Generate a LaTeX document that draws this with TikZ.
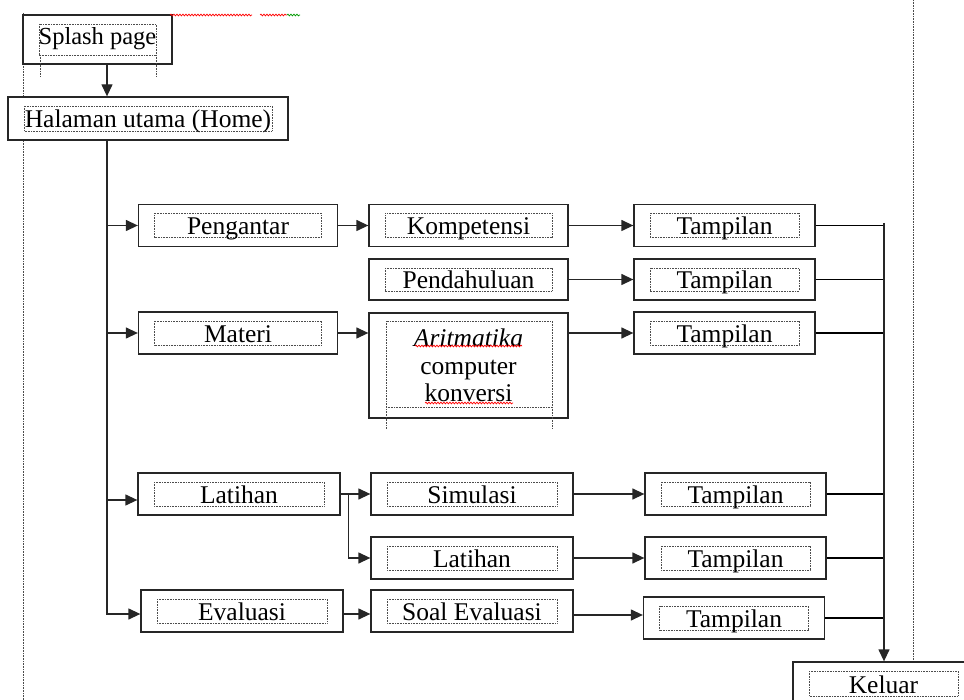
\documentclass[tikz,border=0pt]{standalone}
\usepackage{fontspec}
\setmainfont{Liberation Serif}
\usetikzlibrary{arrows.meta,decorations.pathmorphing}
\begin{document}
\begin{tikzpicture}[x=1pt,y=-1pt,line width=1.3pt,font=\fontsize{25.5}{27.5}\selectfont]
    \tikzstyle{frame}=[draw=black!70,line width=0.8pt,dash pattern=on 0.8pt off 0.8pt]
    \tikzstyle{box}=[draw=black!85,fill=white,rectangle,inner sep=0pt,text height=19pt,text depth=0pt,minimum height=42pt,
        path picture={\draw[frame] ([shift={(16pt,-9pt)}]path picture bounding box.north west) rectangle ([shift={(-16pt,9pt)}]path picture bounding box.south east);}]
    \tikzstyle{menu}=[box,minimum width=199pt]
    \tikzstyle{view}=[box,minimum width=181pt]
    \tikzstyle{link}=[-{Triangle[length=12pt,width=11pt]},draw=black!85]
    \tikzstyle{typo}=[draw=red,line width=0.7pt,decorate,decoration={snake,amplitude=0.9pt,segment length=3pt}]
    \useasboundingbox (0,0) rectangle (964,700);
    % page margins
    \draw[frame] (23,13) -- (23,700);
    \draw[frame] (913,0) -- (913,662);
    % Draw the menu boxes
      \node[box,minimum width=149pt,minimum height=49pt,text height=11pt,font=\fontsize{24.5}{27.5}\selectfont] (splash) at (97.5,39.5) {Splash page};
      \node[box,minimum width=280pt,minimum height=43pt] (home) at (148,118.5) {Halaman utama (Home)};
      \node[menu] (pengantar) at (238,225.5) {Pengantar};
      \node[menu] (materi) at (238,333) {Materi};
      \node[menu,minimum width=202pt] (latihan) at (239,494) {Latihan};
      \node[menu,minimum width=202pt] (evaluasi) at (242,611) {Evaluasi};
    % second level
      \node[menu] (kompetensi) at (468.5,225.5) {Kompetensi};
      \node[menu,minimum height=41pt] (pendahuluan) at (468.5,279.5) {Pendahuluan};
      \node[draw=black!85,fill=white,minimum width=199pt,minimum height=105pt,inner sep=0pt,align=center] (aritmatika) at (468.5,365.5) {\textit{Aritmatika}\\computer\\konversi};
      \node[menu,minimum width=202pt] (simulasi) at (472,494) {Simulasi};
      \node[menu,minimum width=202pt] (latihanb) at (472,558) {Latihan};
      \node[menu,minimum width=202pt] (soal) at (472,611) {Soal Evaluasi};
    % views
      \node[view] (tampilanA) at (724.5,225.5) {Tampilan};
      \node[view,minimum height=41pt] (tampilanB) at (724.5,279.5) {Tampilan};
      \node[view] (tampilanC) at (724.5,333) {Tampilan};
      \node[view] (tampilanD) at (735.5,494) {Tampilan};
      \node[view] (tampilanE) at (735.5,558) {Tampilan};
      \node[view] (tampilanF) at (734,618) {Tampilan};
      \node[view,minimum height=43pt] (keluar) at (883.5,683.5) {Keluar};
      \coordinate (trunk) at (107,140);
      \coordinate (bus) at (884,223);
    % text box leftovers
      \draw[frame] (40,55) -- (40,77) (156,55) -- (156,77);
      \draw[frame] (386,429) -- (386,321) -- (552,321) -- (552,429) (386,407) -- (552,407);
    % Draw the connectors
      \draw[link] (splash.south -| trunk) -- (home.north -| trunk);
      \draw[link] (home.south -| trunk) |- ([yshift=-3pt]evaluasi.west);
      \draw[link] (trunk |- pengantar.west) -- (pengantar.west);
      \draw[link] (trunk |- materi.west) -- (materi.west);
      \draw[link] ([yshift=-6pt]latihan.west -| trunk) -- ([yshift=-6pt]latihan.west);
      \draw[link] (pengantar) -- (kompetensi);
      \draw[link] (materi.east) -- (materi.east -| aritmatika.west);
      \draw[link] (latihan.east) -- (simulasi.west);
      \draw[link] ([xshift=8pt]latihan.east) |- (latihanb.west);
      \draw[link] ([yshift=-3pt]evaluasi.east) -- ([yshift=-3pt]soal.west);
      \draw[link] (kompetensi) -- (tampilanA);
      \draw[link] (pendahuluan) -- (tampilanB);
      \draw[link] (aritmatika.east |- tampilanC.west) -- (tampilanC.west);
      \draw[link] (simulasi) -- (tampilanD);
      \draw[link] (latihanb) -- (tampilanE);
      \draw[link] ([yshift=-4pt]soal.east) -- ([yshift=-4pt]soal.east -| tampilanF.west);
    % collector to Keluar
      \foreach \v in {A,B,C,D,E,F}
        \draw (tampilan\v.east) -- (tampilan\v.east -| bus);
      \draw[link] (bus) -- (keluar.north -| bus);
    % spelling marks
      \draw[typo] (170,15) -- (252,15);
      \draw[typo] (260,15) -- (287,15);
      \draw[typo,draw=green!60!black] (287,15) -- (300,15);
      \draw[typo] (415,346) -- (522,346);
      \draw[typo] (425,403) -- (513,403);
\end{tikzpicture}
\end{document}
